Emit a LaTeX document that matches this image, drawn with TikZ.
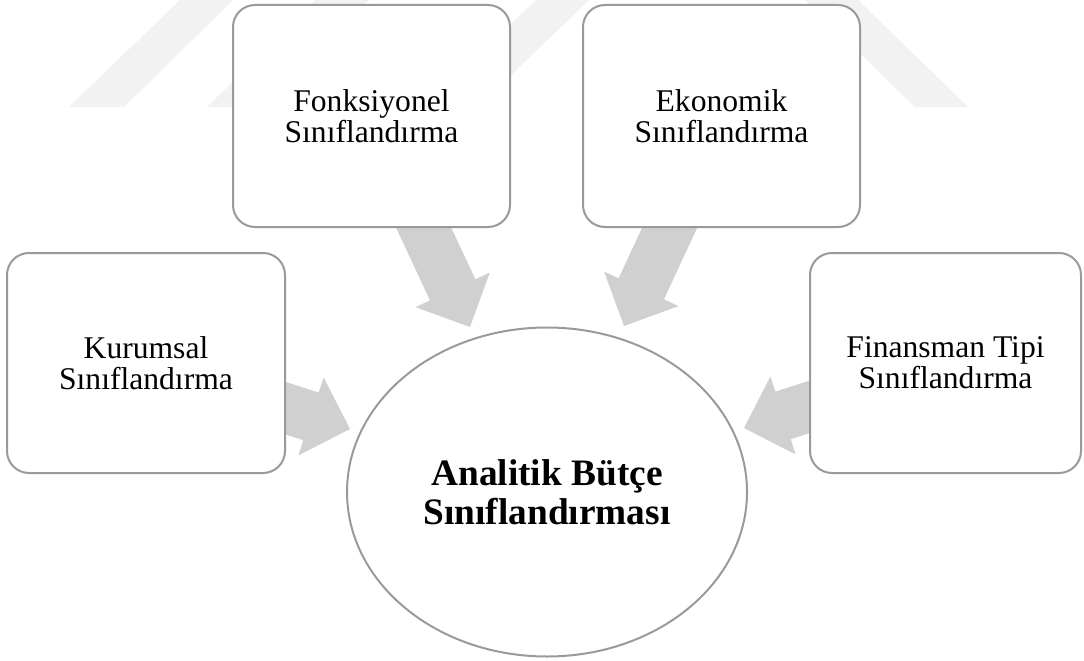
\documentclass[tikz,border=0pt]{standalone}
\usepackage{fontspec}
\setmainfont{Liberation Serif}[Ligatures=NoCommon]
\usetikzlibrary{shapes.geometric,calc}
\pgfdeclarelayer{background}
\pgfsetlayers{background,main}
\definecolor{bord}{HTML}{9A9A9A}
\definecolor{arr}{HTML}{D0D0D0}
\definecolor{wm}{HTML}{F2F2F2}
\newcommand\blockarr[2]{%
  \coordinate (h) at ($(#2)!30.75pt!(#1)$);
  \fill[blockarrow] ($(#1)!18.75pt!90:(#2)$) -- ($(h)!18.75pt!90:(#2)$) -- ($(h)!30.75pt!90:(#2)$) -- (#2)
    -- ($(h)!30.75pt!-90:(#2)$) -- ($(h)!18.75pt!-90:(#2)$) -- ($(#1)!18.75pt!-90:(#2)$) -- cycle;}
\begin{document}
\begin{tikzpicture}[x=0.75pt,y=-0.75pt,
  catbox/.style={draw=bord, line width=1.5pt, fill=white, rounded corners=16.5pt, align=center,
    inner sep=0pt, font=\fontsize{23.7}{23.3}\selectfont},
  hub/.style={ellipse, draw=bord, line width=1.5pt, fill=white, align=center, inner sep=0pt,
    minimum width=300pt, minimum height=246.75pt, font=\bfseries\fontsize{28}{29.25}\selectfont},
  blockarrow/.style={fill=arr, draw=none},
  watermark/.style={fill=wm, draw=none}]
\useasboundingbox (0,0) rectangle (1084,660);
\node[catbox, minimum width=207.75pt, minimum height=166.5pt] (fonk) at (371.5,116) {Fonksiyonel\\Sınıflandırma};
\node[catbox, minimum width=207.75pt, minimum height=166.5pt] (ekon) at (721.5,116) {Ekonomik\\Sınıflandırma};
\node[catbox, minimum width=208.5pt, minimum height=165pt] (kurum) at (146,363) {Kurumsal\\Sınıflandırma};
\node[catbox, minimum width=203.25pt, minimum height=165pt] (finans) at (945.5,363) {Finansman Tipi\\Sınıflandırma};
\node[hub] (main) at (547,492) {Analitik Bütçe\\Sınıflandırması};
\coordinate (tipF) at (470,327);
\coordinate (tipE) at (624,326);
\coordinate (tipK) at (350,429);
\coordinate (tipN) at (744,428);
\begin{pgfonlayer}{background}
  \fill[white] (0,0) rectangle (1084,660);
  \fill[watermark] (69,107) -- (124,107) -- (233,0) -- (180,0) -- cycle;
  \fill[watermark] (207,107) -- (260,107) -- (369,0) -- (316,0) -- cycle;
  \fill[watermark] (425,107) -- (478,107) -- (589,0) -- (536,0) -- cycle;
  \fill[watermark] (805,0) -- (858,0) -- (968,107) -- (915,107) -- cycle;
  \blockarr{fonk.center}{tipF}
  \blockarr{ekon.center}{tipE}
  \blockarr{kurum.center}{tipK}
  \blockarr{finans.center}{tipN}
\end{pgfonlayer}
\end{tikzpicture}
\end{document}
